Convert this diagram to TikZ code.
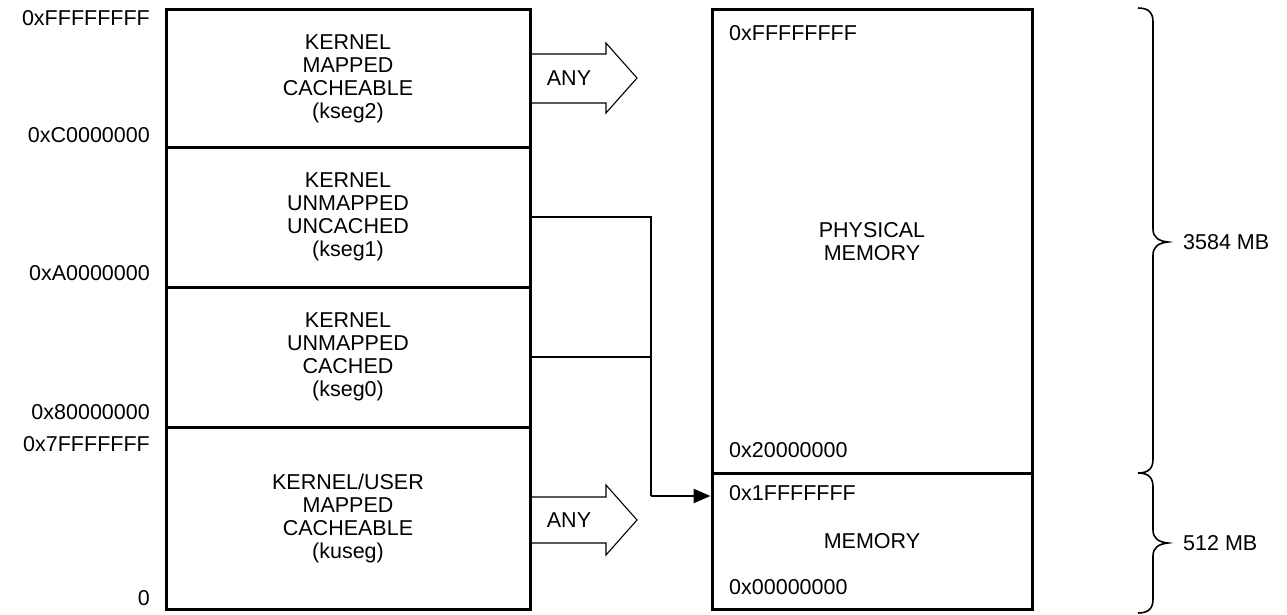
\documentclass[tikz,border=0pt]{standalone}
\usepackage{fontspec}
\setmainfont{Liberation Sans}
\usetikzlibrary{arrows.meta}
\begin{document}
\begin{tikzpicture}[x=1pt,y=-1pt,
  every node/.style={font=\fontsize{21.5}{23}\selectfont, align=center},
  seg/.style={draw, line width=3pt, minimum width=364pt, inner sep=0pt},
  pseg/.style={draw, line width=3pt, minimum width=320pt, inner sep=0pt},
  addr/.style={inner sep=0pt},
  conn/.style={line width=2.5pt},
  bigarrow/.style={line width=1.1pt, line join=miter},
  brace/.style={line width=1.6pt}]
\useasboundingbox (0,0) rectangle (1287,615);
% left column
\node[seg, minimum height=137pt] (k2) at (348,78.5) {KERNEL\\MAPPED\\CACHEABLE\\(kseg2)};
\node[seg, minimum height=140pt] (k1) at (348,217) {KERNEL\\UNMAPPED\\UNCACHED\\(kseg1)};
\node[seg, minimum height=140pt] (k0) at (348,357) {KERNEL\\UNMAPPED\\CACHED\\(kseg0)};
\node[seg, minimum height=182pt] (ku) at (348,518) {KERNEL/USER\\MAPPED\\CACHEABLE\\(kuseg)};
% right column
\node[pseg, minimum height=463pt] (phys) at (872,241.5) {PHYSICAL\\MEMORY};
\node[pseg, minimum height=136pt] (mem) at (872,541) {MEMORY};
% left addresses
\node[addr, anchor=east] (aF) at (150,18) {0xFFFFFFFF};
\node[addr, anchor=east] (aC) at (150,135) {0xC0000000};
\node[addr, anchor=east] (aA) at (150,273) {0xA0000000};
\node[addr, anchor=east] (a8) at (150,412) {0x80000000};
\node[addr, anchor=east] (a7) at (150,444) {0x7FFFFFFF};
\node[addr, anchor=east] (a0) at (150,598) {0};
% right addresses
\node[addr, anchor=west] (pF) at (729,33) {0xFFFFFFFF};
\node[addr, anchor=west] (p2) at (729,450) {0x20000000};
\node[addr, anchor=west] (p1) at (729,493) {0x1FFFFFFF};
\node[addr, anchor=west] (p0) at (729,587) {0x00000000};
% ANY arrows
\draw[bigarrow] (k2.east |- 0,54) -- (606,54) -- (606,43) -- (637,78) -- (606,113) -- (606,103) -- (k2.east |- 0,103);
\node[addr] (any1) at (569,78) {ANY};
\draw[bigarrow] (ku.east |- 0,497) -- (606,497) -- (606,485) -- (637,520) -- (606,555) -- (606,543) -- (ku.east |- 0,543);
\node[addr] (any2) at (569,520) {ANY};
% connectors
\coordinate (jn) at (651,496);
\draw[conn, line join=miter] (k1.east) -| (jn);
\draw[conn, -{Triangle[length=17pt,width=14pt]}] (jn) -- (mem.west |- jn);
\draw[conn] (k0.east) -- (k0.east -| jn);
% braces
\draw[brace] (1138,8) .. controls (1149,8) and (1153,13) .. (1153,22) -- (1153,229)
  .. controls (1153,237) and (1158,241) .. (1168,242)
  .. controls (1158,243) and (1153,247) .. (1153,255) -- (1153,459)
  .. controls (1153,468) and (1149,473) .. (1138,473);
\draw[brace] (1138,473) .. controls (1149,473) and (1153,478) .. (1153,487) -- (1153,530)
  .. controls (1153,538) and (1158,542) .. (1168,543)
  .. controls (1158,544) and (1153,548) .. (1153,556) -- (1153,599)
  .. controls (1153,608) and (1149,613) .. (1138,613);
\node[addr, anchor=west] (mb1) at (1183,242) {3584 MB};
\node[addr, anchor=west] (mb2) at (1183,543) {512 MB};
\end{tikzpicture}
\end{document}
